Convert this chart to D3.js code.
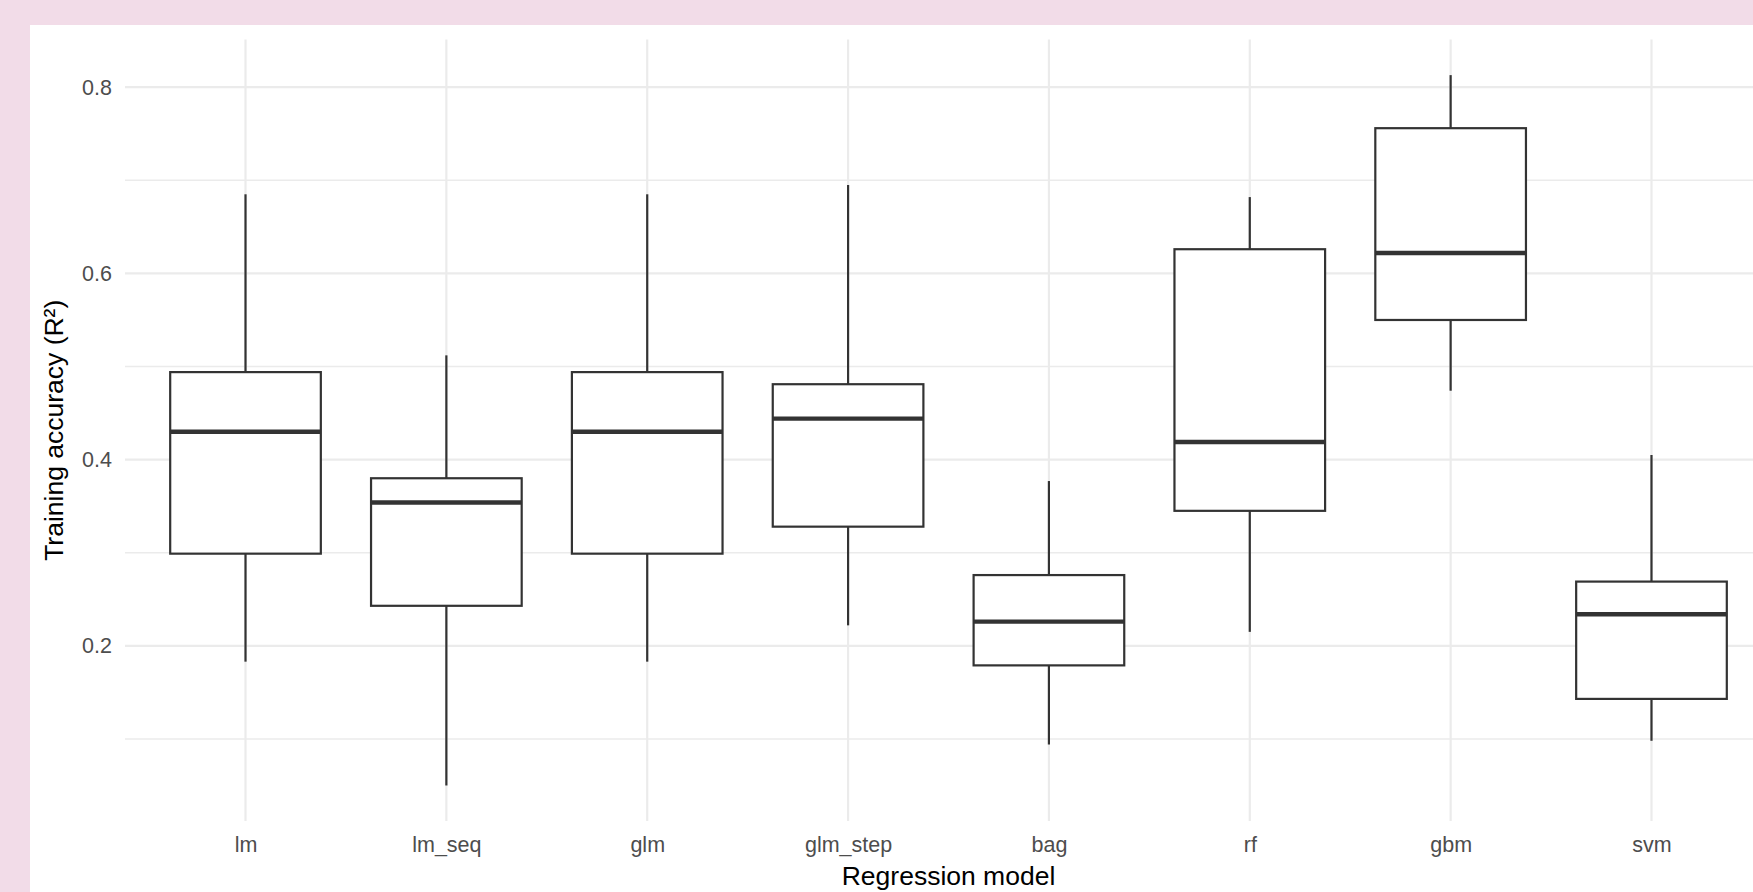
<!DOCTYPE html>
<html>
<head>
<meta charset="utf-8">
<script src="https://cdn.jsdelivr.net/npm/d3@7"></script>
<style>
  html, body { margin: 0; padding: 0; background: #f2dce8; overflow: hidden; }
  svg { display: block; }
  text { font-family: "Liberation Sans", Arial, sans-serif; }
</style>
</head>
<body>
<svg id="chart" width="1753" height="892"></svg>
<script>
// ---- data ----
const models = ["lm", "lm_seq", "glm", "glm_step", "bag", "rf", "gbm", "svm"];
const lowerWhisker = [0.183, 0.050, 0.183, 0.222, 0.094, 0.215, 0.474, 0.098];
const q1Values     = [0.299, 0.243, 0.299, 0.328, 0.179, 0.345, 0.550, 0.143];
const medianValues = [0.430, 0.354, 0.430, 0.444, 0.226, 0.419, 0.622, 0.234];
const q3Values     = [0.494, 0.380, 0.494, 0.481, 0.276, 0.626, 0.756, 0.269];
const upperWhisker = [0.685, 0.512, 0.685, 0.695, 0.377, 0.682, 0.813, 0.405];
const majorTicks = [0.2, 0.4, 0.6, 0.8];
const minorTicks = [0.1, 0.3, 0.5, 0.7];
const xTitle = "Regression model";
const yTitle = "Training accuracy (R²)";

const boxes = models.map((m, i) => ({
  model: m, lo: lowerWhisker[i], q1: q1Values[i], med: medianValues[i],
  q3: q3Values[i], hi: upperWhisker[i]
}));

// ---- layout ----
const svg = d3.select("#chart");
const panel = { left: 125, right: 1772, top: 39.6, bottom: 821 };

// white background card
svg.append("rect").attr("x", 30).attr("y", 25).attr("width", 1800).attr("height", 900).attr("fill", "#ffffff");

const x = d3.scalePoint().domain(models).range([panel.left, panel.right]).padding(0.6);
const lo = d3.min(lowerWhisker), hi = d3.max(upperWhisker);
const pad = (hi - lo) * 0.05;
const y = d3.scaleLinear().domain([lo - pad, hi + pad]).range([panel.bottom, panel.top]);
const boxW = x.step() * 0.75;

const grid = svg.append("g");
// minor horizontal grid
grid.selectAll("line.minor").data(minorTicks).join("line")
  .attr("x1", panel.left).attr("x2", panel.right)
  .attr("y1", d => y(d)).attr("y2", d => y(d))
  .attr("stroke", "#ebebeb").attr("stroke-width", 1.6);
// major horizontal grid
grid.selectAll("line.major").data(majorTicks).join("line")
  .attr("x1", panel.left).attr("x2", panel.right)
  .attr("y1", d => y(d)).attr("y2", d => y(d))
  .attr("stroke", "#ebebeb").attr("stroke-width", 2.2);
// vertical grid
grid.selectAll("line.v").data(models).join("line")
  .attr("x1", d => x(d)).attr("x2", d => x(d))
  .attr("y1", panel.top).attr("y2", panel.bottom)
  .attr("stroke", "#ebebeb").attr("stroke-width", 2.2);

// axes (text only)
const yAxis = svg.append("g").attr("transform", `translate(${panel.left},0)`)
  .call(d3.axisLeft(y).tickValues(majorTicks).tickSize(0).tickPadding(13).tickFormat(d3.format(".1f")));
yAxis.select(".domain").remove();
yAxis.selectAll("text").attr("fill", "#4d4d4d").style("font-size", "21.5px");

const xAxis = svg.append("g").attr("transform", `translate(0,${panel.bottom})`)
  .call(d3.axisBottom(x).tickSize(0).tickPadding(16));
xAxis.select(".domain").remove();
xAxis.selectAll("text").attr("fill", "#4d4d4d").style("font-size", "21.5px");

// boxes
const stroke = "#333333";
const g = svg.append("g");
const bx = g.selectAll("g.box").data(boxes).join("g").attr("class", "box");
bx.append("line")
  .attr("x1", d => x(d.model)).attr("x2", d => x(d.model))
  .attr("y1", d => y(d.hi)).attr("y2", d => y(d.q3))
  .attr("stroke", stroke).attr("stroke-width", 2.2);
bx.append("line")
  .attr("x1", d => x(d.model)).attr("x2", d => x(d.model))
  .attr("y1", d => y(d.q1)).attr("y2", d => y(d.lo))
  .attr("stroke", stroke).attr("stroke-width", 2.2);
bx.append("rect")
  .attr("x", d => x(d.model) - boxW / 2).attr("width", boxW)
  .attr("y", d => y(d.q3)).attr("height", d => y(d.q1) - y(d.q3))
  .attr("fill", "#ffffff").attr("stroke", stroke).attr("stroke-width", 2.2);
bx.append("line")
  .attr("x1", d => x(d.model) - boxW / 2).attr("x2", d => x(d.model) + boxW / 2)
  .attr("y1", d => y(d.med)).attr("y2", d => y(d.med))
  .attr("stroke", stroke).attr("stroke-width", 4.4);

// titles
svg.append("text").attr("x", (panel.left + panel.right) / 2).attr("y", 885)
  .attr("text-anchor", "middle").attr("fill", "#000").style("font-size", "26.5px").text(xTitle);
svg.append("text").attr("transform", `translate(63,${(panel.top + panel.bottom) / 2}) rotate(-90)`)
  .attr("text-anchor", "middle").attr("fill", "#000").style("font-size", "26.5px").text(yTitle);
</script>
</body>
</html>
